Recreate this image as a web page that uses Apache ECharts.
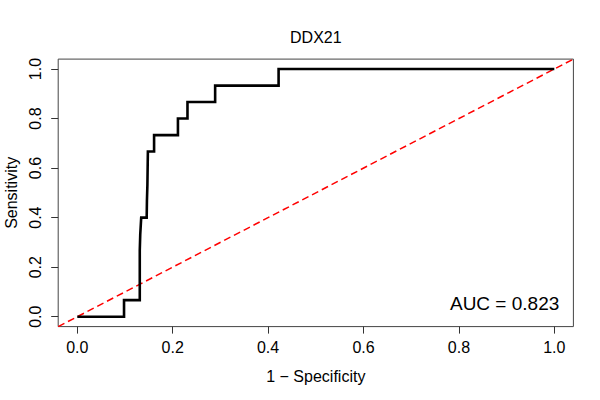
<!DOCTYPE html>
<html>
<head>
<meta charset="utf-8">
<style>
  html, body { margin: 0; padding: 0; background: #fff; }
  #chart { width: 600px; height: 400px; }
</style>
<script src="https://cdn.jsdelivr.net/npm/echarts@6/dist/echarts.min.js"></script>
</head>
<body>
<div id="chart"></div>
<script>
(function() {
  // ROC curve corners
  var fpr = [0, 0.098, 0.098, 0.131, 0.131, 0.132, 0.134, 0.1455, 0.146, 0.147, 0.148, 0.161, 0.161, 0.211, 0.211, 0.231, 0.231, 0.289, 0.289, 0.422, 0.422, 1];
  var tpr = [0, 0, 0.067, 0.067, 0.267, 0.333, 0.4, 0.4, 0.467, 0.533, 0.667, 0.667, 0.733, 0.733, 0.8, 0.8, 0.867, 0.867, 0.933, 0.933, 1, 1];
  var chanceX = [-0.04, 1.04];
  var chanceY = [-0.04, 1.04];
  var ticks = [0, 0.2, 0.4, 0.6, 0.8, 1.0];
  var title = 'DDX21';
  var aucText = 'AUC = 0.823';

  var font = 'Liberation Sans, Arial, Helvetica, sans-serif';
  var curve = fpr.map(function(x, i) { return [x, tpr[i]]; });
  var chance = chanceX.map(function(x, i) { return [x, chanceY[i]]; });

  var chart = echarts.init(document.getElementById('chart'), null, { renderer: 'svg' });

  function axis(name, gap, rotate) {
    return {
      type: 'value',
      min: -0.04,
      max: 1.04,
      name: name,
      nameLocation: 'middle',
      nameGap: gap,
      nameTextStyle: { color: '#000', fontSize: 16, fontFamily: font },
      axisLine: { show: false, onZero: false },
      axisTick: { show: true, customValues: ticks, length: 7, inside: false, lineStyle: { color: '#333' } },
      axisLabel: {
        customValues: ticks, color: '#000', fontSize: 16, fontFamily: font,
        margin: rotate ? 15 : 13, rotate: rotate,
        formatter: function(v) { return v.toFixed(1); }
      },
      splitLine: { show: false }
    };
  }

  chart.setOption({
    animation: false,
    title: {
      text: title, left: 315.8, top: 29, padding: 0, textAlign: 'center',
      textStyle: { color: '#000', fontSize: 16, fontWeight: 'normal', fontFamily: font }
    },
    grid: {
      left: 58.2, right: 26.6, top: 59.1, bottom: 73.4,
      outerBoundsMode: 'none', containLabel: false,
      show: true, borderColor: '#444', borderWidth: 1
    },
    xAxis: axis('1 \u2212 Specificity', 42, 0),
    yAxis: axis('Sensitivity', 34, 90),
    series: [
      {
        type: 'line', data: chance, symbol: 'none', clip: true, silent: true,
        lineStyle: { color: '#ff0000', width: 1.5, type: [7, 4] }
      },
      {
        type: 'line', data: curve, symbol: 'none', clip: true,
        lineStyle: { color: '#000', width: 2.6, join: 'miter' }
      }
    ],
    graphic: [{
      type: 'text', x: 559.3, y: 303.5,
      style: { text: aucText, fill: '#000', fontSize: 19, fontFamily: font, textAlign: 'right', textVerticalAlign: 'middle' }
    }]
  });
  window.addEventListener('resize', function() { chart.resize(); });
})();
</script>
</body>
</html>
